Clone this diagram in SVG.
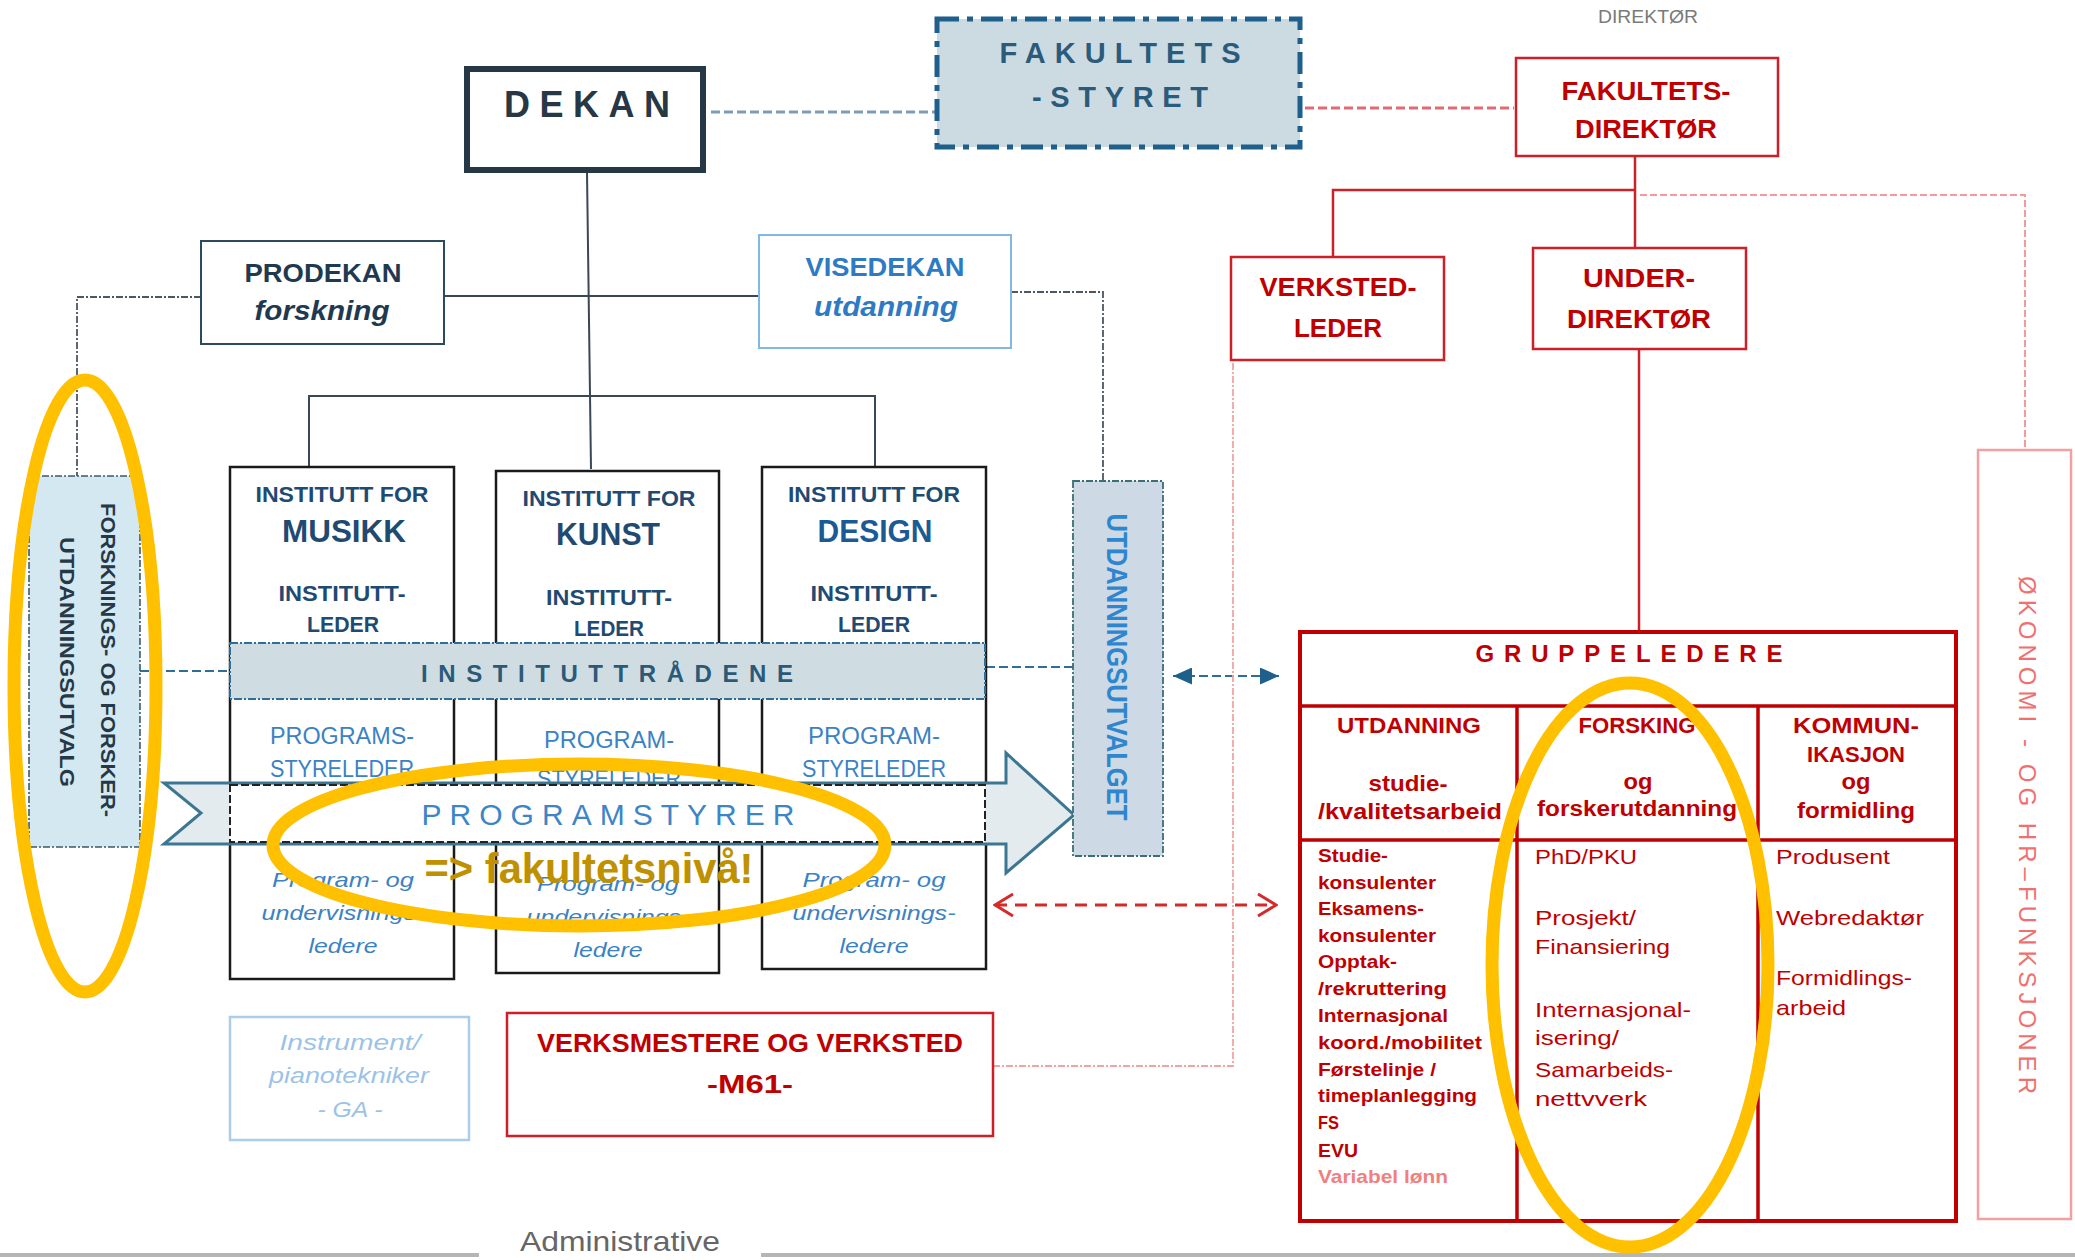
<svg xmlns="http://www.w3.org/2000/svg" width="2075" height="1260" viewBox="0 0 2075 1260">
<style>
text{font-family:"Liberation Sans",Arial,sans-serif}
.c{text-anchor:middle}
.b{font-weight:bold}
.it{font-style:italic}
.dk{fill:#263746}
.ib{fill:#1f4a72}
.pb{fill:#3b82c4}
.rd{fill:#c00000}
.inst{fill:#fff;stroke:#1a1a1a;stroke-width:2.5}
.rbox{fill:#fff;stroke:#cc1f28;stroke-width:2.5}
.ln{fill:none;stroke:#3a4856;stroke-width:2}
.rl{fill:none;stroke:#c8232b;stroke-width:2.5}
.dd{fill:none;stroke:#4a5866;stroke-width:1.8;stroke-dasharray:7 2 2 2}
.pd{fill:none;stroke:#f3a3a3;stroke-width:1.8;stroke-dasharray:7 2 2 2}
.bd{fill:none;stroke:#2f6e99;stroke-width:2.2;stroke-dasharray:9 4}
.hl{fill:none;stroke:#ffc000;stroke-width:13}
.i1{font-size:22px;font-weight:bold}
.i2{font-size:31px;font-weight:bold}
.p1{font-size:23px}
.p2{font-size:21px;font-style:italic}
.l1{font-size:19px;font-weight:bold}
.l2{font-size:21px}
</style>
<defs>
<marker id="tri" viewBox="0 0 19 17" refX="19" refY="8.5" markerWidth="19" markerHeight="17" markerUnits="userSpaceOnUse" orient="auto-start-reverse"><path d="M0,0 L19,8.5 L0,17 z" fill="#1f5f8b"/></marker>
<marker id="chev" viewBox="0 0 22 26" refX="20" refY="13" markerWidth="22" markerHeight="26" markerUnits="userSpaceOnUse" orient="auto-start-reverse"><path d="M2,2 L20,13 L2,24" fill="none" stroke="#d42a2a" stroke-width="3"/></marker>
</defs>
<rect width="2075" height="1260" fill="#fff"/>

<g id="connectors">
<path d="M711,112 H935" fill="none" stroke="#7d9db6" stroke-width="3" stroke-dasharray="9 4"/>
<path d="M1305,108 H1514" fill="none" stroke="#e06b70" stroke-width="3" stroke-dasharray="9 4"/>
<path d="M587,172 L591,469" class="ln"/>
<path d="M444,296 H759" class="ln"/>
<path d="M309,467 V396 H875 V467" class="ln"/>
<path d="M201,297 H77 V476" class="dd"/>
<path d="M1011,292 H1103 V481" class="dd"/>
<path d="M140,671 H230" class="bd"/>
<path d="M986,667 H1073" class="bd"/>
<line x1="1173" y1="676" x2="1279" y2="676" class="bd" marker-start="url(#tri)" marker-end="url(#tri)"/>
<line x1="995" y1="905" x2="1276" y2="905" fill="none" stroke="#d42a2a" stroke-width="3" stroke-dasharray="12 8" marker-start="url(#chev)" marker-end="url(#chev)"/>
<path d="M1635,156 V248 M1635,190 H1333 V257" class="rl"/>
<path d="M1639,349 V632" class="rl"/>
<path d="M1640,195 H2025 V450" fill="none" stroke="#f49a9a" stroke-width="2" stroke-dasharray="7 3"/>
<path d="M993,1066 H1233 V360" class="pd"/>
</g>

<g id="dekan">
<rect x="467" y="69" width="236" height="101" fill="#fff" stroke="#263746" stroke-width="6"/>
<text x="587" y="117" class="c b dk" font-size="36" textLength="166" lengthAdjust="spacing">DEKAN</text>
</g>

<g id="fakultetsstyret">
<rect x="937" y="19" width="363" height="128" fill="#ccdbe2" stroke="#1f5f8b" stroke-width="5" stroke-dasharray="22 8 6 8"/>
<text x="1120" y="63" class="c b" fill="#2b5b7b" font-size="29" textLength="241" lengthAdjust="spacing">FAKULTETS</text>
<text x="1120" y="107" class="c b" fill="#2b5b7b" font-size="29" textLength="176" lengthAdjust="spacing">-STYRET</text>
</g>

<g id="direktor-label">
<text x="1648" y="23" class="c" fill="#7a7a7a" font-size="18" textLength="100" lengthAdjust="spacingAndGlyphs">DIREKTØR</text>
</g>

<g id="fakultetsdirektor">
<rect x="1516" y="58" width="262" height="98" class="rbox"/>
<text x="1646" y="100" class="c b rd" font-size="25" textLength="169" lengthAdjust="spacingAndGlyphs">FAKULTETS-</text>
<text x="1646" y="138" class="c b rd" font-size="25" textLength="142" lengthAdjust="spacingAndGlyphs">DIREKTØR</text>
</g>

<g id="verkstedleder">
<rect x="1231" y="257" width="213" height="103" class="rbox"/>
<text x="1338" y="296" class="c b rd" font-size="25" textLength="157" lengthAdjust="spacingAndGlyphs">VERKSTED-</text>
<text x="1338" y="337" class="c b rd" font-size="25" textLength="88" lengthAdjust="spacingAndGlyphs">LEDER</text>
</g>

<g id="underdirektor">
<rect x="1533" y="248" width="213" height="101" class="rbox"/>
<text x="1639" y="287" class="c b rd" font-size="25" textLength="112" lengthAdjust="spacingAndGlyphs">UNDER-</text>
<text x="1639" y="328" class="c b rd" font-size="25" textLength="144" lengthAdjust="spacingAndGlyphs">DIREKTØR</text>
</g>

<g id="prodekan">
<rect x="201" y="241" width="243" height="103" fill="#fff" stroke="#2c4a5e" stroke-width="2"/>
<text x="323" y="282" class="c b" fill="#1f3a50" font-size="26" textLength="157" lengthAdjust="spacingAndGlyphs">PRODEKAN</text>
<text x="322" y="320" class="c b it" fill="#1f3a50" font-size="27" textLength="135" lengthAdjust="spacingAndGlyphs">forskning</text>
</g>

<g id="visedekan">
<rect x="759" y="235" width="252" height="113" fill="#fff" stroke="#82b8e4" stroke-width="2"/>
<text x="885" y="276" class="c b" fill="#2e7bc4" font-size="26" textLength="159" lengthAdjust="spacingAndGlyphs">VISEDEKAN</text>
<text x="886" y="316" class="c b it" fill="#2e7bc4" font-size="27" textLength="144" lengthAdjust="spacingAndGlyphs">utdanning</text>
</g>

<g id="institutt-musikk">
<rect x="230" y="467" width="224" height="512" class="inst"/>
<text x="342" y="502" class="c i1 ib" textLength="173" lengthAdjust="spacingAndGlyphs">INSTITUTT FOR</text>
<text x="344" y="542" class="c i2 ib" textLength="124" lengthAdjust="spacingAndGlyphs">MUSIKK</text>
<text x="342" y="601" class="c i1 ib" textLength="127" lengthAdjust="spacingAndGlyphs">INSTITUTT-</text>
<text x="343" y="632" class="c i1 ib" textLength="72" lengthAdjust="spacingAndGlyphs">LEDER</text>
<text x="342" y="744" class="c p1 pb" textLength="144" lengthAdjust="spacingAndGlyphs">PROGRAMS-</text>
<text x="342" y="777" class="c p1 pb" textLength="144" lengthAdjust="spacingAndGlyphs">STYRELEDER</text>
<text x="343" y="887" class="c p2 pb" textLength="142" lengthAdjust="spacingAndGlyphs">Program- og</text>
<text x="343" y="920" class="c p2 pb" textLength="163" lengthAdjust="spacingAndGlyphs">undervisnings-</text>
<text x="343" y="953" class="c p2 pb" textLength="69" lengthAdjust="spacingAndGlyphs">ledere</text>
</g>

<g id="institutt-kunst">
<rect x="496" y="471" width="223" height="502" class="inst"/>
<text x="609" y="506" class="c i1 ib" textLength="173" lengthAdjust="spacingAndGlyphs">INSTITUTT FOR</text>
<text x="608" y="545" class="c i2 ib" textLength="104" lengthAdjust="spacingAndGlyphs">KUNST</text>
<text x="609" y="605" class="c i1 ib" textLength="126" lengthAdjust="spacingAndGlyphs">INSTITUTT-</text>
<text x="609" y="636" class="c i1 ib" textLength="70" lengthAdjust="spacingAndGlyphs">LEDER</text>
<text x="609" y="748" class="c p1 pb" textLength="130" lengthAdjust="spacingAndGlyphs">PROGRAM-</text>
<text x="609" y="787" class="c p1 pb" textLength="144" lengthAdjust="spacingAndGlyphs">STYRELEDER</text>
<text x="608" y="891" class="c p2 pb" textLength="142" lengthAdjust="spacingAndGlyphs">Program- og</text>
<text x="608" y="924" class="c p2 pb" textLength="163" lengthAdjust="spacingAndGlyphs">undervisnings-</text>
<text x="608" y="957" class="c p2 pb" textLength="69" lengthAdjust="spacingAndGlyphs">ledere</text>
</g>

<g id="institutt-design">
<rect x="762" y="467" width="224" height="502" class="inst"/>
<text x="874" y="502" class="c i1 ib" textLength="172" lengthAdjust="spacingAndGlyphs">INSTITUTT FOR</text>
<text x="875" y="542" class="c i2" fill="#1c5a96" textLength="115" lengthAdjust="spacingAndGlyphs">DESIGN</text>
<text x="874" y="601" class="c i1 ib" textLength="127" lengthAdjust="spacingAndGlyphs">INSTITUTT-</text>
<text x="874" y="632" class="c i1 ib" textLength="72" lengthAdjust="spacingAndGlyphs">LEDER</text>
<text x="874" y="744" class="c p1 pb" textLength="132" lengthAdjust="spacingAndGlyphs">PROGRAM-</text>
<text x="874" y="777" class="c p1 pb" textLength="144" lengthAdjust="spacingAndGlyphs">STYRELEDER</text>
<text x="874" y="887" class="c p2 pb" textLength="143" lengthAdjust="spacingAndGlyphs">Program- og</text>
<text x="874" y="920" class="c p2 pb" textLength="163" lengthAdjust="spacingAndGlyphs">undervisnings-</text>
<text x="874" y="953" class="c p2 pb" textLength="69" lengthAdjust="spacingAndGlyphs">ledere</text>
</g>

<g id="instituttradene">
<rect x="230" y="643" width="755" height="56" fill="#cfdde3" stroke="#2f6e99" stroke-width="2" stroke-dasharray="8 2 2 2"/>
<text x="607" y="682" class="c b" fill="#2b5a78" font-size="24" textLength="372" lengthAdjust="spacing">INSTITUTTRÅDENE</text>
</g>

<g id="programstyrer">
<polygon points="164,783 1006,783 1006,753 1074,815 1006,873 1006,844 164,844 201,813" fill="#e3ebee" stroke="#3c7791" stroke-width="3"/>
<rect x="230" y="785" width="755" height="57" fill="#fff" stroke="#222" stroke-width="2" stroke-dasharray="8 3"/>
<text x="608" y="825" class="c" fill="#3d85c6" font-size="30" textLength="373" lengthAdjust="spacing">PROGRAMSTYRER</text>
</g>

<g id="forskningsutvalg">
<rect x="29" y="476" width="111" height="371" fill="#d3e8f1" stroke="#3c5a6a" stroke-width="1.6" stroke-dasharray="7 2 2 2"/>
<text transform="translate(108,660) rotate(90)" x="0" y="7" class="c b dk" font-size="20" textLength="314" lengthAdjust="spacingAndGlyphs">FORSKNINGS- OG FORSKER-</text>
<text transform="translate(67,662) rotate(90)" x="0" y="7" class="c b dk" font-size="20" textLength="250" lengthAdjust="spacingAndGlyphs">UTDANNINGSUTVALG</text>
</g>

<g id="utdanningsutvalget">
<rect x="1073" y="481" width="90" height="375" fill="#cdd9e4" stroke="#3a6e78" stroke-width="1.8" stroke-dasharray="7 2 2 2"/>
<text transform="translate(1118,667) rotate(90)" x="0" y="11" class="c b" fill="#2e86cf" font-size="30" textLength="307" lengthAdjust="spacingAndGlyphs">UTDANNINGSUTVALGET</text>
</g>

<g id="gruppeledere">
<rect x="1300" y="632" width="656" height="589" fill="#fff" stroke="#c00000" stroke-width="4"/>
<path d="M1300,706 H1956 M1300,840 H1956 M1517,706 V1221 M1758,706 V1221" fill="none" stroke="#c00000" stroke-width="3.5"/>
<text x="1629" y="662" class="c b rd" font-size="24" textLength="307" lengthAdjust="spacing">GRUPPELEDERE</text>
<text x="1409" y="733" class="c b rd" font-size="22" textLength="144" lengthAdjust="spacingAndGlyphs">UTDANNING</text>
<text x="1408" y="791" class="c b rd" font-size="22" textLength="79" lengthAdjust="spacingAndGlyphs">studie-</text>
<text x="1410" y="819" class="c b rd" font-size="22" textLength="184" lengthAdjust="spacingAndGlyphs">/kvalitetsarbeid</text>
<text x="1637" y="733" class="c b rd" font-size="22" textLength="117" lengthAdjust="spacingAndGlyphs">FORSKING</text>
<text x="1638" y="789" class="c b rd" font-size="22" textLength="29" lengthAdjust="spacingAndGlyphs">og</text>
<text x="1637" y="816" class="c b rd" font-size="22" textLength="200" lengthAdjust="spacingAndGlyphs">forskerutdanning</text>
<text x="1856" y="733" class="c b rd" font-size="22" textLength="126" lengthAdjust="spacingAndGlyphs">KOMMUN-</text>
<text x="1856" y="762" class="c b rd" font-size="22" textLength="98" lengthAdjust="spacingAndGlyphs">IKASJON</text>
<text x="1856" y="789" class="c b rd" font-size="22" textLength="29" lengthAdjust="spacingAndGlyphs">og</text>
<text x="1856" y="818" class="c b rd" font-size="22" textLength="118" lengthAdjust="spacingAndGlyphs">formidling</text>
<text x="1318" y="862" class="l1 rd" textLength="70" lengthAdjust="spacingAndGlyphs">Studie-</text>
<text x="1318" y="889" class="l1 rd" textLength="118" lengthAdjust="spacingAndGlyphs">konsulenter</text>
<text x="1318" y="915" class="l1 rd" textLength="106" lengthAdjust="spacingAndGlyphs">Eksamens-</text>
<text x="1318" y="942" class="l1 rd" textLength="118" lengthAdjust="spacingAndGlyphs">konsulenter</text>
<text x="1318" y="968" class="l1 rd" textLength="79" lengthAdjust="spacingAndGlyphs">Opptak-</text>
<text x="1318" y="995" class="l1 rd" textLength="129" lengthAdjust="spacingAndGlyphs">/rekruttering</text>
<text x="1318" y="1022" class="l1 rd" textLength="130" lengthAdjust="spacingAndGlyphs">Internasjonal</text>
<text x="1318" y="1049" class="l1 rd" textLength="164" lengthAdjust="spacingAndGlyphs">koord./mobilitet</text>
<text x="1318" y="1076" class="l1 rd" textLength="118" lengthAdjust="spacingAndGlyphs">Førstelinje /</text>
<text x="1318" y="1102" class="l1 rd" textLength="159" lengthAdjust="spacingAndGlyphs">timeplanlegging</text>
<text x="1318" y="1129" class="l1 rd" textLength="21" lengthAdjust="spacingAndGlyphs">FS</text>
<text x="1318" y="1157" class="l1 rd" textLength="40" lengthAdjust="spacingAndGlyphs">EVU</text>
<text x="1318" y="1183" class="l1" fill="#f08080" textLength="130" lengthAdjust="spacingAndGlyphs">Variabel lønn</text>
<text x="1535" y="864" class="l2 rd" textLength="102" lengthAdjust="spacingAndGlyphs">PhD/PKU</text>
<text x="1535" y="925" class="l2 rd" textLength="101" lengthAdjust="spacingAndGlyphs">Prosjekt/</text>
<text x="1535" y="954" class="l2 rd" textLength="135" lengthAdjust="spacingAndGlyphs">Finansiering</text>
<text x="1535" y="1017" class="l2 rd" textLength="156" lengthAdjust="spacingAndGlyphs">Internasjonal-</text>
<text x="1535" y="1045" class="l2 rd" textLength="84" lengthAdjust="spacingAndGlyphs">isering/</text>
<text x="1535" y="1077" class="l2 rd" textLength="138" lengthAdjust="spacingAndGlyphs">Samarbeids-</text>
<text x="1535" y="1106" class="l2 rd" textLength="112" lengthAdjust="spacingAndGlyphs">nettvverk</text>
<text x="1776" y="864" class="l2 rd" textLength="114" lengthAdjust="spacingAndGlyphs">Produsent</text>
<text x="1776" y="925" class="l2 rd" textLength="148" lengthAdjust="spacingAndGlyphs">Webredaktør</text>
<text x="1776" y="985" class="l2 rd" textLength="136" lengthAdjust="spacingAndGlyphs">Formidlings-</text>
<text x="1776" y="1015" class="l2 rd" textLength="70" lengthAdjust="spacingAndGlyphs">arbeid</text>
</g>

<g id="okonomi-hr">
<rect x="1978" y="450" width="93" height="769" fill="#fff" stroke="#f4a0a0" stroke-width="2.5"/>
<text transform="translate(2027,835) rotate(90)" x="0" y="8.5" class="c" fill="#f07070" font-size="24" textLength="518" lengthAdjust="spacing">ØKONOMI - OG HR–FUNKSJONER</text>
</g>

<g id="verksmestere">
<rect x="507" y="1013" width="486" height="123" class="rbox"/>
<text x="750" y="1052" class="c b rd" font-size="26" textLength="426" lengthAdjust="spacingAndGlyphs">VERKSMESTERE OG VERKSTED</text>
<text x="750" y="1093" class="c b rd" font-size="26" textLength="86" lengthAdjust="spacingAndGlyphs">-M61-</text>
</g>

<g id="instrument">
<rect x="230" y="1017" width="239" height="123" fill="#fff" stroke="#a9cdea" stroke-width="2.5"/>
<text x="350" y="1050" class="c it" fill="#9cc3e6" font-size="22" textLength="141" lengthAdjust="spacingAndGlyphs">Instrument/</text>
<text x="349" y="1083" class="c it" fill="#9cc3e6" font-size="22" textLength="160" lengthAdjust="spacingAndGlyphs">pianotekniker</text>
<text x="350" y="1117" class="c it" fill="#9cc3e6" font-size="22" textLength="65" lengthAdjust="spacingAndGlyphs">- GA -</text>
</g>

<g id="administrative">
<path d="M0,1255 H479 M761,1255 H2075" fill="none" stroke="#b5b5b5" stroke-width="4"/>
<text x="620" y="1251" class="c" fill="#666" font-size="28" textLength="200" lengthAdjust="spacingAndGlyphs">Administrative</text>
</g>

<g id="highlights">
<ellipse cx="85" cy="686" rx="71" ry="306" class="hl"/>
<ellipse cx="579" cy="845" rx="306" ry="81" class="hl"/>
<ellipse cx="1630" cy="965" rx="138" ry="282" class="hl"/>
<text x="589" y="883" class="c b" fill="#bf9000" font-size="42" textLength="329" lengthAdjust="spacingAndGlyphs">=&gt; fakultetsnivå!</text>
</g>
</svg>
